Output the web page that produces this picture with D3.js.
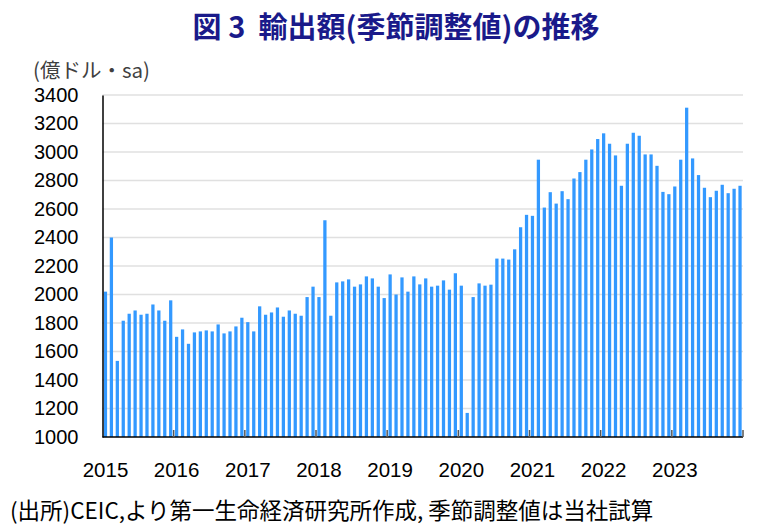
<!DOCTYPE html>
<html>
<head>
<meta charset="utf-8">
<title>輸出額(季節調整値)の推移</title>
<script src="https://d3js.org/d3.v7.min.js"></script>
<style>
  body { margin: 0; background: #fff; }
  .axis .domain { stroke: #000; stroke-width: 1.5px; }
  .pre { white-space: pre; }
</style>
</head>
<body>
<script>

// monthly exports, 100 million USD, seasonally adjusted (2015-01 .. 2023-12)
var years = ["2015", "2016", "2017", "2018", "2019", "2020", "2021", "2022", "2023"];
var values = [
  2020, 2400, 1534, 1816, 1865, 1888, 1858, 1865, 1930, 1888, 1816, 1959,  // 2015
  1703, 1755, 1654, 1734, 1741, 1748, 1741, 1790, 1727, 1741, 1776, 1837,  // 2016
  1806, 1741, 1917, 1858, 1874, 1909, 1844, 1888, 1865, 1851, 1982, 2055,  // 2017
  1982, 2521, 1851, 2085, 2092, 2106, 2055, 2071, 2127, 2113, 2055, 1975,  // 2018
  2141, 2000, 2120, 2020, 2127, 2071, 2113, 2055, 2062, 2099, 2034, 2149,  // 2019
  2062, 1169, 1982, 2078, 2062, 2069, 2252, 2252, 2245, 2317, 2472, 2559,  // 2020
  2552, 2946, 2610, 2718, 2638, 2725, 2669, 2814, 2859, 2946, 3018, 3091,  // 2021
  3131, 3058, 2976, 2763, 3058, 3135, 3114, 2983, 2983, 2903, 2720, 2704,  // 2022
  2758, 2946, 3311, 2955, 2838, 2749, 2683, 2728, 2770, 2711, 2742, 2763   // 2023
];
var yTicks = [1000, 1200, 1400, 1600, 1800, 2000, 2200, 2400, 2600, 2800, 3000, 3200, 3400];

var months = [];
years.forEach(function(y) {
  for (var m = 1; m <= 12; m++) months.push(y + "-" + (m < 10 ? "0" + m : m));
});
var data = months.map(function(m, i) { return {month: m, value: values[i]}; });

var W = 765, H = 531;
var margin = {top: 95, right: 22, bottom: 94, left: 102.5};
var width = W - margin.left - margin.right,
    height = H - margin.top - margin.bottom;

var svg = d3.select("body").append("svg")
    .attr("width", W)
    .attr("height", H);

svg.append("text")
    .attr("class", "pre")
    .attr("x", 396)
    .attr("y", 38)
    .attr("text-anchor", "middle")
    .attr("font-family", "'Noto Sans CJK JP', sans-serif")
    .attr("font-weight", "bold")
    .attr("font-size", 29)
    .attr("fill", "#1a1a8a")
    .text("図 3  輸出額(季節調整値)の推移");

svg.append("text")
    .attr("x", 33)
    .attr("y", 78)
    .attr("font-family", "'Noto Sans CJK JP', sans-serif")
    .attr("font-size", 20.5)
    .attr("fill", "#404040")
    .text("(億ドル・sa)");

svg.append("text")
    .attr("class", "pre")
    .attr("x", 10)
    .attr("y", 519)
    .attr("font-family", "'Noto Sans CJK JP', sans-serif")
    .attr("font-size", 22.5)
    .attr("fill", "#000")
    .text("(出所)CEIC,より第一生命経済研究所作成, 季節調整値は当社試算");

var g = svg.append("g")
    .attr("transform", "translate(" + margin.left + "," + margin.top + ")");

var x = d3.scaleBand()
    .domain(months)
    .range([0, width])
    .paddingInner(0.45)
    .paddingOuter(0.225);

var y = d3.scaleLinear()
    .domain([1000, 3400])
    .range([height, 0]);

// gridlines
g.append("g")
  .selectAll("line")
  .data(yTicks.slice(1))
  .enter().append("line")
    .attr("x1", 0)
    .attr("x2", width)
    .attr("y1", function(d) { return y(d); })
    .attr("y2", function(d) { return y(d); })
    .attr("stroke", "#e0e0e0")
    .attr("stroke-width", 1.5);

g.append("g")
  .selectAll("rect")
  .data(data)
  .enter().append("rect")
    .attr("x", function(d) { return x(d.month); })
    .attr("y", function(d) { return y(d.value); })
    .attr("width", x.bandwidth())
    .attr("height", function(d) { return height - y(d.value); })
    .attr("fill", "#3399ff");

// y axis
g.append("g")
    .attr("class", "axis")
    .call(d3.axisLeft(y).tickValues(yTicks).tickSize(0).tickPadding(24).tickFormat(d3.format("d")))
    .call(function(s) {
      s.selectAll("text")
        .attr("font-family", "'Liberation Sans', Arial, sans-serif")
        .attr("font-size", 20)
        .attr("fill", "#000");
    });

// x axis: ticks at year boundaries, labels under January
var off = x.step() * x.paddingInner() / 2;
var xa = g.append("g")
    .attr("class", "axis")
    .attr("transform", "translate(0," + height + ")");
xa.append("line")
    .attr("x1", 0).attr("x2", width)
    .attr("stroke", "#000").attr("stroke-width", 1.5);
xa.selectAll(".yt")
  .data(years.slice(1).concat(["end"]))
  .enter().append("line")
    .attr("class", "yt")
    .attr("x1", function(d) { return d === "end" ? width : x(d + "-01") - off; })
    .attr("x2", function(d) { return d === "end" ? width : x(d + "-01") - off; })
    .attr("y1", 0)
    .attr("y2", -7)
    .attr("stroke", "#555")
    .attr("stroke-width", 1.5);
xa.selectAll(".yl")
  .data(years)
  .enter().append("text")
    .attr("class", "yl")
    .attr("x", function(d) { return x(d + "-01") + x.bandwidth() / 2; })
    .attr("y", 40)
    .attr("text-anchor", "middle")
    .attr("font-family", "'Liberation Sans', Arial, sans-serif")
    .attr("font-size", 20.5)
    .attr("fill", "#000")
    .text(function(d) { return d; });

</script>
</body>
</html>
